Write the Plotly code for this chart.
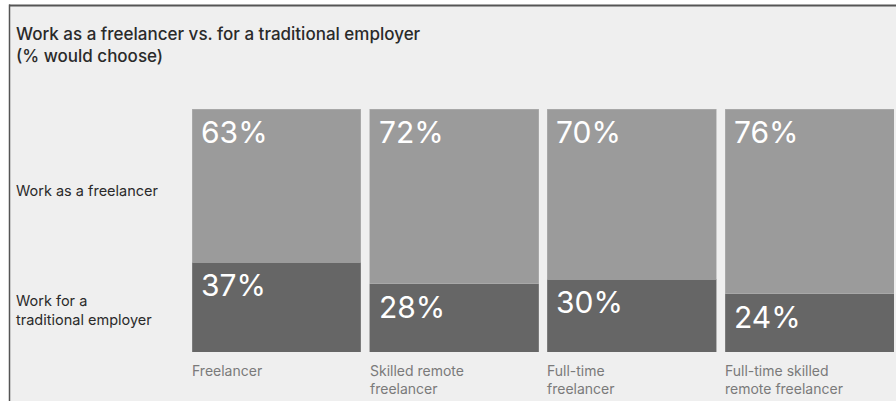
import plotly.graph_objects as go

categories = ["Freelancer", "Skilled remote<br>freelancer", "Full-time<br>freelancer", "Full-time skilled<br>remote freelancer"]
employer = [37, 28, 30, 24]
freelancer = [63, 72, 70, 76]
series_names = ["Work for a<br>traditional employer", "Work as a freelancer"]
title_text = "Work as a freelancer vs. for a traditional employer<br>(% would choose)"

W, H = 896, 401
L, R, T, B = 192, 2, 109, 49
BW = 0.951
xs = list(range(len(categories)))

FONT = "Inter, Liberation Sans, Arial, sans-serif"
DARK = "#666666"
LIGHT = "#9b9b9b"
BG = "#efefef"

fig = go.Figure()
fig.add_trace(go.Bar(x=xs, y=employer, width=BW, marker=dict(color=DARK, line=dict(color="#8a8a8a", width=0.6)),
                     name=series_names[0], hoverinfo="skip"))
fig.add_trace(go.Bar(x=xs, y=freelancer, width=BW, marker=dict(color=LIGHT, line=dict(color="#b0b0b0", width=0.6)),
                     name=series_names[1], hoverinfo="skip"))

pw = W - L - R
ph = H - T - B
def px2paper_x(px):
    return (px - L) / pw
def py2paper_y(py):
    return (H - B - py) / ph

annotations = []
for i in xs:
    left = i - BW / 2
    annotations.append(dict(x=left, y=100, xref="x", yref="y", xanchor="left", yanchor="top",
                            text=f"{freelancer[i]}%", showarrow=False, xshift=7, yshift=-3,
                            font=dict(family=FONT, size=30, color="white")))
    annotations.append(dict(x=left, y=employer[i], xref="x", yref="y", xanchor="left", yanchor="top",
                            text=f"{employer[i]}%", showarrow=False, xshift=7, yshift=-3,
                            font=dict(family=FONT, size=30, color="white")))
    annotations.append(dict(x=left, y=0, xref="x", yref="y", xanchor="left", yanchor="top",
                            text=categories[i], showarrow=False, xshift=-2, yshift=-8, align="left",
                            font=dict(family=FONT, size=14, color="#7a7a7a")))

annotations.append(dict(x=px2paper_x(14), y=py2paper_y(22), xref="paper", yref="paper",
                        xanchor="left", yanchor="top", text=title_text, showarrow=False, align="left",
                        font=dict(family=FONT, size=17, color="#2a2a2a", weight=500)))
annotations.append(dict(x=px2paper_x(14), y=py2paper_y(190), xref="paper", yref="paper",
                        xanchor="left", yanchor="middle", text=series_names[1], showarrow=False, align="left",
                        font=dict(family=FONT, size=14.5, color="#2a2a2a")))
annotations.append(dict(x=px2paper_x(14), y=py2paper_y(310), xref="paper", yref="paper",
                        xanchor="left", yanchor="middle", text=series_names[0], showarrow=False, align="left",
                        font=dict(family=FONT, size=14.5, color="#2a2a2a")))

shapes = [
    dict(type="rect", xref="paper", yref="paper", x0=px2paper_x(10), x1=px2paper_x(905),
         y0=py2paper_y(410), y1=py2paper_y(5), fillcolor=BG, line=dict(width=0), layer="below"),
    dict(type="line", xref="paper", yref="paper", x0=px2paper_x(9), x1=px2paper_x(905),
         y0=py2paper_y(5.5), y1=py2paper_y(5.5), line=dict(color="#555555", width=2), layer="above"),
    dict(type="line", xref="paper", yref="paper", x0=px2paper_x(9.5), x1=px2paper_x(9.5),
         y0=py2paper_y(4.5), y1=py2paper_y(410), line=dict(color="#555555", width=1.5), layer="above"),
]

fig.update_layout(
    width=W, height=H, margin=dict(l=L, r=R, t=T, b=B, pad=0),
    barmode="stack", showlegend=False,
    paper_bgcolor="white", plot_bgcolor="rgba(0,0,0,0)",
    xaxis=dict(range=[-BW / 2, len(xs) - 1 + BW / 2], visible=False, fixedrange=True),
    yaxis=dict(range=[0, 100], visible=False, fixedrange=True),
    annotations=annotations, shapes=shapes,
)

fig.write_html("out.html", config={"displayModeBar": False})
